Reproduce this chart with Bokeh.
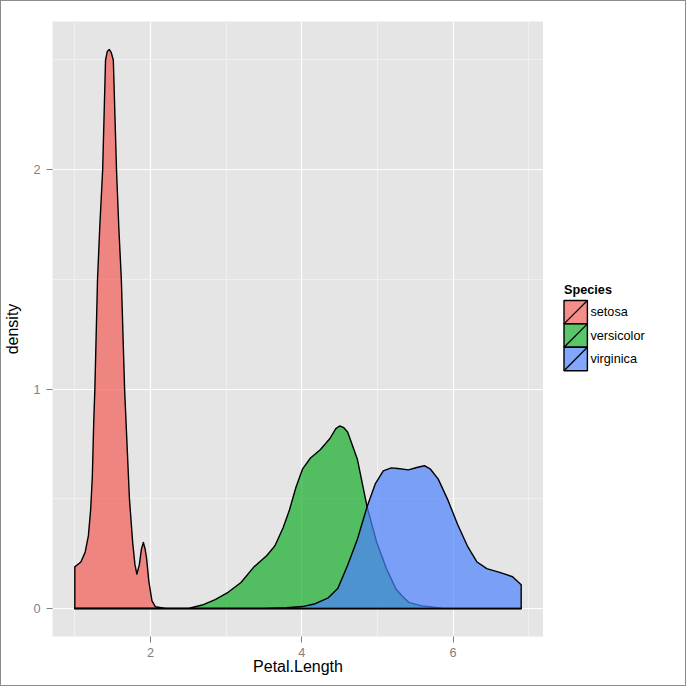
from bokeh.plotting import figure
from bokeh.layouts import row
from bokeh.models import FixedTicker, Range1d
from bokeh.core.properties import value
from bokeh.embed import file_html
from bokeh.resources import INLINE

# ---- data ----
species = ["setosa", "versicolor", "virginica"]
fill_colors = ["#F35C55", "#16AD2A", "#4C82FF"]

setosa_x = [1.0, 1.08, 1.137, 1.179, 1.209, 1.231, 1.25, 1.265, 1.30, 1.33, 1.368, 1.406, 1.43,
            1.455, 1.48, 1.509, 1.551, 1.581, 1.615, 1.658, 1.722, 1.765, 1.795, 1.82, 1.853,
            1.88, 1.906, 1.93, 1.949, 1.978, 2.02, 2.064, 2.2, 6.9]
setosa_d = [0.19, 0.212, 0.257, 0.331, 0.449, 0.597, 0.85, 1.0, 1.5, 1.74, 2.0, 2.5, 2.54,
            2.548, 2.535, 2.5, 2.0, 1.74, 1.5, 1.0, 0.5, 0.3, 0.2, 0.157, 0.2,
            0.27, 0.301, 0.27, 0.227, 0.125, 0.035, 0.009, 0.0, 0.0]

versicolor_x = [1.0, 2.3, 2.513, 2.683, 2.855, 3.026, 3.196, 3.368, 3.538, 3.645, 3.753, 3.837,
                3.923, 4.009, 4.115, 4.244, 4.372, 4.45, 4.5, 4.55, 4.606, 4.735, 4.863, 4.991,
                5.119, 5.247, 5.333, 5.419, 5.59, 5.85, 6.9]
versicolor_d = [0.0, 0.0, 0.002, 0.016, 0.041, 0.074, 0.119, 0.19, 0.242, 0.286, 0.368, 0.449,
                0.553, 0.635, 0.686, 0.724, 0.775, 0.82, 0.832, 0.826, 0.805, 0.68, 0.464, 0.301,
                0.182, 0.088, 0.055, 0.027, 0.012, 0.002, 0.0]

virginica_x = [1.0, 3.5, 3.795, 4.009, 4.179, 4.35, 4.478, 4.606, 4.735, 4.863, 4.971, 5.077,
               5.183, 5.27, 5.41, 5.52, 5.62, 5.696, 5.804, 5.932, 6.06, 6.188, 6.317, 6.445,
               6.615, 6.786, 6.9]
virginica_d = [0.0, 0.0, 0.004, 0.009, 0.022, 0.049, 0.093, 0.197, 0.316, 0.464, 0.568, 0.627,
               0.641, 0.638, 0.632, 0.643, 0.651, 0.637, 0.59, 0.494, 0.383, 0.286, 0.212, 0.182,
               0.165, 0.145, 0.108]

x_ticks = [2, 4, 6]
x_minor = [1, 3, 5, 7]
y_ticks = [0, 1, 2]
y_minor = [0.5, 1.5, 2.5]

FONT = "Liberation Sans"
ALPHA = 0.7
TOTAL = 684
MAIN_W = 542
LEG_W = TOTAL - MAIN_W
TOP_B = 20
BOT_B = 49

# ---------------- main panel ----------------
p = figure(width=MAIN_W, height=TOTAL, output_backend="svg", toolbar_location=None, title=None,
           x_range=Range1d(0.705, 7.195), y_range=Range1d(-0.1274, 2.6754),
           min_border_left=49, min_border_right=0, min_border_top=TOP_B, min_border_bottom=BOT_B)
p.background_fill_color = "#E5E5E5"
p.border_fill_color = "white"
p.outline_line_color = None

series = [(setosa_x, setosa_d), (versicolor_x, versicolor_d), (virginica_x, virginica_d)]
for (xs, ds), col in zip(series, fill_colors):
    px = [xs[0]] + list(xs) + [xs[-1]]
    py = [0.0] + list(ds) + [0.0]
    p.patch(px, py, fill_color=col, fill_alpha=ALPHA, line_color="black",
            line_width=1.4, line_join="round")

p.xaxis.ticker = FixedTicker(ticks=x_ticks, minor_ticks=x_minor)
p.yaxis.ticker = FixedTicker(ticks=y_ticks, minor_ticks=y_minor)

for g in (p.xgrid, p.ygrid):
    g.grid_line_color = "white"
    g.grid_line_width = 1.2
    g.minor_grid_line_color = "#F2F2F2"
    g.minor_grid_line_width = 0.8

for ax in (p.xaxis, p.yaxis):
    ax.axis_line_color = None
    ax.minor_tick_line_color = None
    ax.major_tick_line_color = "#7F7F7F"
    ax.major_tick_out = 6
    ax.major_tick_in = 0
    ax.major_label_text_font = FONT
    ax.major_label_text_font_size = "12.7px"
    ax.major_label_text_color = "#7F7F7F"
    ax.axis_label_text_font = FONT
    ax.axis_label_text_font_size = "16px"
    ax.axis_label_text_font_style = "normal"
    ax.axis_label_text_color = "black"

p.xaxis.axis_label = "Petal.Length"
p.yaxis.axis_label = "density"
p.xaxis.major_label_standoff = 5
p.xaxis.axis_label_standoff = -2
p.yaxis.major_label_standoff = 6
p.yaxis.axis_label_standoff = 9

# ---------------- legend panel (data units = pixels, y measured up from page bottom) ----------------
q = figure(width=LEG_W, height=TOTAL, output_backend="svg", toolbar_location=None, title=None,
           x_range=Range1d(0, LEG_W), y_range=Range1d(BOT_B, TOTAL - TOP_B),
           x_axis_location=None, y_axis_location=None,
           min_border_left=0, min_border_right=0, min_border_top=TOP_B, min_border_bottom=BOT_B)
q.grid.visible = False
q.outline_line_color = None
q.background_fill_color = "white"
q.border_fill_color = "white"

KEY = 23.4
KEY_LEFT = 20.5
KEY_TOP = 299          # screen y of the top of the first key
LABEL_GAP = 3
n = len(species)
tops = [TOTAL - (KEY_TOP + i * KEY) for i in range(n)]
bottoms = [t - KEY for t in tops]
lefts = [KEY_LEFT] * n
rights = [KEY_LEFT + KEY] * n

q.quad(left=lefts, right=rights, bottom=bottoms, top=tops, fill_color=fill_colors,
       fill_alpha=ALPHA, line_color="black", line_width=1.4)
q.segment(lefts, bottoms, rights, tops, line_color="black", line_width=1.3)
q.text(x=[KEY_LEFT + KEY + LABEL_GAP] * n, y=[t - KEY / 2 for t in tops], text=species,
       text_baseline="middle", text_align="left", text_font=value(FONT),
       text_font_size="12.7px", text_color="black")
q.text(x=[KEY_LEFT], y=[TOTAL - KEY_TOP + 4], text=["Species"], text_baseline="bottom",
       text_align="left", text_font=value(FONT), text_font_size="12.7px",
       text_font_style="bold", text_color="black")

layout = row(p, q, styles={"border": "1px solid #8c8c8c"})

open("out.html", "w").write(file_html(layout, INLINE))
